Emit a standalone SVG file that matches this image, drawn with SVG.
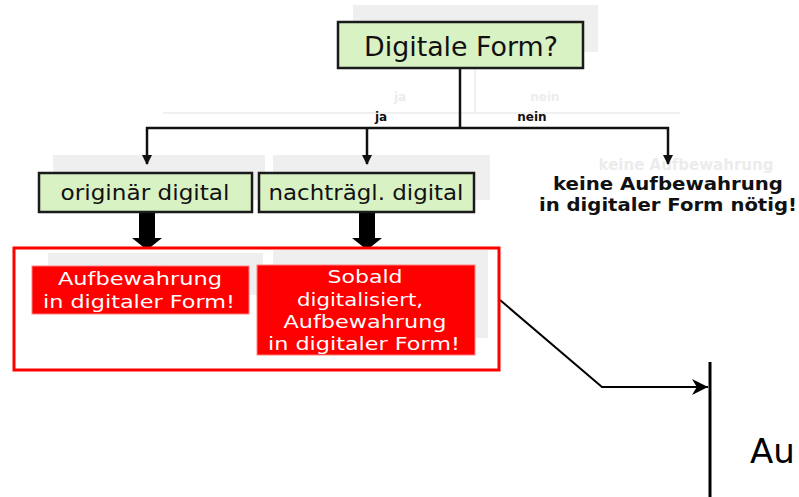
<svg xmlns="http://www.w3.org/2000/svg" width="799" height="497" viewBox="0 0 799 497">
<style>
.shadow{fill:#efefef}
.q{fill:#d9f2c4;stroke:#1a1a1a;stroke-width:2.5}
.qt{font-family:"DejaVu Sans",sans-serif;fill:#111;text-anchor:middle}
.lbl{font-family:"DejaVu Sans",sans-serif;font-weight:bold;font-size:12px;fill:#111;text-anchor:middle}
.ghost{font-family:"DejaVu Sans",sans-serif;font-weight:bold;fill:#ececec;text-anchor:middle}
.red{fill:#ff0000;stroke:#ff8080;stroke-width:1}
.wt{font-family:"DejaVu Sans",sans-serif;font-size:18.5px;fill:#fff;text-anchor:middle}
.bt{font-family:"DejaVu Sans",sans-serif;font-weight:bold;font-size:17.5px;fill:#111;text-anchor:middle}
.ln{fill:none;stroke:#111;stroke-width:2.5}
</style>
<defs>
<marker id="ah" viewBox="0 0 10 10" refX="9" refY="5" markerWidth="4" markerHeight="4.4" orient="auto" markerUnits="strokeWidth"><path d="M0,0 L10,5 L0,10 Z" fill="#111"/></marker>
<marker id="ar" viewBox="0 0 10 10" refX="10" refY="5" markerWidth="8" markerHeight="8" orient="auto" markerUnits="strokeWidth"><path d="M0,0 L10,5 L0,10 L3,5 Z" fill="#000"/></marker>
</defs>
<rect width="799" height="497" fill="#fff"/>

<g id="ghosts">
<rect class="shadow" x="353" y="5" width="245" height="47"/>
<line x1="163" y1="113" x2="680" y2="113" stroke="#f0f0f0" stroke-width="2"/>
<line x1="475" y1="52" x2="475" y2="113" stroke="#f0f0f0" stroke-width="2"/>
<text class="ghost" x="400" y="101" font-size="12">ja</text>
<text class="ghost" x="545" y="101" font-size="12">nein</text>
<rect class="shadow" x="53" y="155" width="212" height="45"/>
<rect class="shadow" x="273" y="155" width="217" height="45"/>
<text class="ghost" x="686" y="170" font-size="15">keine Aufbewahrung</text>
</g>

<g id="connectors">
<line class="ln" x1="460" y1="68" x2="460" y2="128"/>
<line class="ln" x1="146" y1="128" x2="669" y2="128"/>
<line class="ln" x1="147" y1="127" x2="147" y2="164" marker-end="url(#ah)"/>
<line class="ln" x1="367" y1="127" x2="367" y2="164" marker-end="url(#ah)"/>
<line class="ln" x1="668" y1="127" x2="668" y2="164" marker-end="url(#ah)"/>
<text class="lbl" x="381" y="121">ja</text>
<text class="lbl" x="532" y="121">nein</text>
<path d="M139,213 H155 V238 H162 L147,250 L132,238 H139 Z" fill="#000"/>
<path d="M359,213 H375 V238 H382 L367,250 L352,238 H359 Z" fill="#000"/>
<path d="M500,300 L602,387 L708,387" fill="none" stroke="#000" stroke-width="2" marker-end="url(#ar)"/>
</g>

<g id="n-digitale-form">
<rect class="q" x="338" y="22" width="245" height="46"/>
<text class="qt" x="461" y="56" font-size="27" textLength="194" lengthAdjust="spacingAndGlyphs">Digitale Form?</text>
</g>

<g id="n-originaer">
<rect class="q" x="39" y="173" width="213" height="39"/>
<text class="qt" x="145" y="200" font-size="21" textLength="169" lengthAdjust="spacingAndGlyphs">originär digital</text>
</g>

<g id="n-nachtraegl">
<rect class="q" x="259" y="173" width="215" height="39"/>
<text class="qt" x="366" y="200" font-size="21" textLength="195" lengthAdjust="spacingAndGlyphs">nachträgl. digital</text>
</g>

<g id="n-keine">
<text class="bt" x="668" y="190" textLength="230" lengthAdjust="spacingAndGlyphs">keine Aufbewahrung</text>
<text class="bt" x="668" y="211" textLength="258" lengthAdjust="spacingAndGlyphs">in digitaler Form nötig!</text>
</g>

<g id="n-result">
<rect x="14" y="248" width="485" height="122" fill="#fff" stroke="#ff0000" stroke-width="3"/>
<rect class="shadow" x="48" y="253" width="215" height="42"/>
<rect class="shadow" x="273" y="250" width="215" height="88"/>
<rect class="red" x="32" y="266" width="217" height="48"/>
<text class="wt" x="140" y="285" textLength="164" lengthAdjust="spacingAndGlyphs">Aufbewahrung</text>
<text class="wt" x="139" y="308" textLength="192" lengthAdjust="spacingAndGlyphs">in digitaler Form!</text>
<rect class="red" x="257" y="265" width="218" height="90"/>
<text class="wt" x="365" y="283" textLength="75" lengthAdjust="spacingAndGlyphs">Sobald</text>
<text class="wt" x="360" y="306" textLength="126" lengthAdjust="spacingAndGlyphs">digitalisiert,</text>
<text class="wt" x="365" y="328" textLength="163" lengthAdjust="spacingAndGlyphs">Aufbewahrung</text>
<text class="wt" x="364" y="350" textLength="192" lengthAdjust="spacingAndGlyphs">in digitaler Form!</text>
</g>

<g id="n-au">
<line x1="710" y1="362" x2="710" y2="497" stroke="#000" stroke-width="3"/>
<text x="750" y="463" font-family="DejaVu Sans, sans-serif" font-size="34" fill="#000">Au</text>
</g>
</svg>
